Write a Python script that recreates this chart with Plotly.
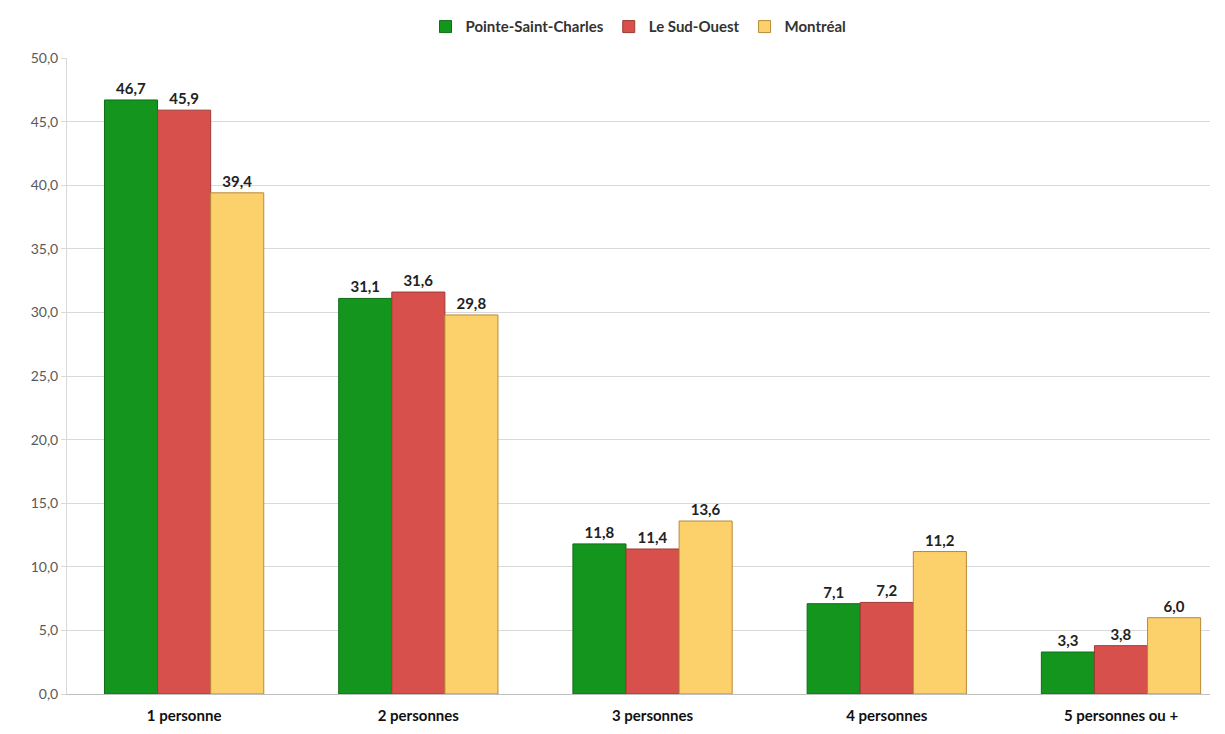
import plotly.graph_objects as go

# Household size distribution (%)
categories = ["1 personne", "2 personnes", "3 personnes", "4 personnes", "5 personnes ou +"]
pointe_saint_charles = [46.7, 31.1, 11.8, 7.1, 3.3]
sud_ouest = [45.9, 31.6, 11.4, 7.2, 3.8]
montreal = [39.4, 29.8, 13.6, 11.2, 6.0]
y_ticks = [0, 5, 10, 15, 20, 25, 30, 35, 40, 45, 50]

series = [
    ("Pointe-Saint-Charles", pointe_saint_charles, "#14961E", "#0C6E14"),
    ("Le Sud-Ouest", sud_ouest, "#D8504B", "#9E3A35"),
    ("Montréal", montreal, "#FCD06A", "#B88A3A"),
]

fig = go.Figure()
for name, vals, color, edge in series:
    fig.add_trace(go.Bar(
        x=categories, y=vals, name=name,
        marker=dict(color=color, line=dict(color=edge, width=1)),
        texttemplate="%{y:.1f}", textposition="outside", cliponaxis=False,
        textfont=dict(family="Lato", size=15, color="#222222", weight="bold"),
    ))

# the page body has an 8px margin, so the figure is sized to fit inside it
fig.update_layout(
    width=1217, height=726,
    barmode="group", bargap=0.32, bargroupgap=0,
    separators=", ",
    paper_bgcolor="white", plot_bgcolor="white",
    margin=dict(l=59, r=15, t=50, b=40, autoexpand=False),
    font=dict(family="Lato", color="#333333"),
    legend=dict(orientation="h", x=0.5, xanchor="center", y=1.049, yanchor="middle",
                font=dict(size=15, color="#333333", weight="bold"),
                itemwidth=30, traceorder="normal"),
    showlegend=True,
)
fig.update_xaxes(
    range=[-0.5, 4.38],
    tickfont=dict(family="Lato", size=15, color="#111111", weight="bold"),
    ticklabelstandoff=8,
    showline=True, linecolor="#BFBFBF", showgrid=False, ticks="",
)
fig.update_yaxes(
    range=[0, 50], tickvals=y_ticks, tickformat=".1f",
    tickfont=dict(family="Lato", size=14, color="#595959"),
    showgrid=True, gridcolor="#D9D9D9", gridwidth=1,
    showline=True, linecolor="#D9D9D9",
    ticks="outside", ticklen=5, tickcolor="#D9D9D9", zeroline=False,
)

fig.write_html("out.html")
